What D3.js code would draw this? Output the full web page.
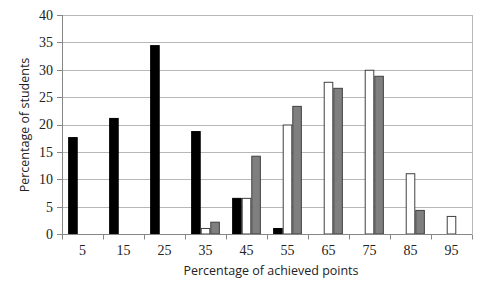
<!DOCTYPE html>
<html>
<head>
<meta charset="utf-8">
<script src="https://cdn.jsdelivr.net/npm/d3@7"></script>
<style>
  body { margin: 0; background: #fff; }
</style>
</head>
<body>
<div class="chart"></div>
<script>
// Data
var categories = ["5", "15", "25", "35", "45", "55", "65", "75", "85", "95"];
var seriesBlack = [17.7, 21.2, 34.5, 18.8, 6.6, 1.1, 0, 0, 0, 0];
var seriesWhite = [0, 0, 0, 1.1, 6.6, 20.0, 27.8, 30.0, 11.1, 3.3];
var seriesGray = [0, 0, 0, 2.25, 14.3, 23.4, 26.7, 28.9, 4.4, 0];
var yTicks = [0, 5, 10, 15, 20, 25, 30, 35, 40];

var width = 487;
var height = 296;
var margin = { top: 15, right: 15, bottom: 62, left: 62 };
var plotW = width - margin.left - margin.right;
var plotH = height - margin.top - margin.bottom;

var svg = d3.select(".chart")
  .append("svg")
  .attr("width", width)
  .attr("height", height);

var g = svg.append("g")
  .attr("transform", "translate(" + margin.left + "," + margin.top + ")");

// Scales
var x0 = d3.scaleBand()
  .domain(categories)
  .range([0, plotW])
  .paddingInner(0)
  .paddingOuter(0);

var keys = ["black", "white", "gray"];
var gap = 0.3; // gap width as share of one band
var x1 = d3.scaleBand()
  .domain(keys)
  .range([x0.bandwidth() * gap / 2, x0.bandwidth() * (1 - gap / 2)]);

var y = d3.scaleLinear()
  .domain([0, 40])
  .range([plotH, 0]);

// Gridlines
g.selectAll(".grid")
  .data(yTicks)
  .enter().append("line")
  .attr("x1", 0)
  .attr("x2", plotW)
  .attr("y1", function (d) { return Math.round(y(d)) + 0.5; })
  .attr("y2", function (d) { return Math.round(y(d)) + 0.5; })
  .attr("stroke", "#b8b8b8")
  .attr("stroke-width", 1);

// Right border of plot area
g.append("line")
  .attr("x1", plotW + 0.5).attr("x2", plotW + 0.5)
  .attr("y1", y(40)).attr("y2", plotH)
  .attr("stroke", "#b8b8b8");

// Bars
var table = categories.map(function (c, i) {
  return { cat: c, black: seriesBlack[i], white: seriesWhite[i], gray: seriesGray[i] };
});
var fills = { black: "#000000", white: "#ffffff", gray: "#7f7f7f" };
var strokes = { black: "#000000", white: "#404040", gray: "#404040" };

var groups = g.selectAll(".group")
  .data(table)
  .enter().append("g")
  .attr("transform", function (d) { return "translate(" + x0(d.cat) + ",0)"; });

groups.selectAll("rect")
  .data(function (d) {
    return keys.map(function (k) { return { key: k, value: d[k] }; })
      .filter(function (e) { return e.value > 0; });
  })
  .enter().append("rect")
  .attr("x", function (d) { return x1(d.key) + 0.5; })
  .attr("y", function (d) { return y(d.value) + 0.5; })
  .attr("width", x1.bandwidth() - 1)
  .attr("height", function (d) { return Math.max(0, plotH - y(d.value) - 0.5); })
  .attr("fill", function (d) { return fills[d.key]; })
  .attr("stroke", function (d) { return strokes[d.key]; })
  .attr("stroke-width", 1);

// X axis
var xAxis = g.append("g")
  .attr("transform", "translate(0," + (Math.round(plotH) + 0.5) + ")");
xAxis.append("line")
  .attr("x1", 0).attr("x2", plotW)
  .attr("stroke", "#868686");
xAxis.selectAll(".tick")
  .data(d3.range(categories.length + 1))
  .enter().append("line")
  .attr("x1", function (i) { return Math.round(i * x0.bandwidth()) + 0.5; })
  .attr("x2", function (i) { return Math.round(i * x0.bandwidth()) + 0.5; })
  .attr("y1", 0).attr("y2", 5)
  .attr("stroke", "#868686");
xAxis.selectAll("text")
  .data(categories)
  .enter().append("text")
  .attr("x", function (d) { return x0(d) + x0.bandwidth() / 2; })
  .attr("y", 20)
  .attr("text-anchor", "middle")
  .style("font-family", "Liberation Serif, serif")
  .style("font-size", "14px")
  .style("fill", "#222")
  .text(function (d) { return d; });

// Y axis
var yAxis = g.append("g");
yAxis.append("line")
  .attr("x1", 0.5).attr("x2", 0.5)
  .attr("y1", 0).attr("y2", plotH)
  .attr("stroke", "#868686");
yAxis.selectAll(".tick")
  .data(yTicks)
  .enter().append("line")
  .attr("x1", -5).attr("x2", 0)
  .attr("y1", function (d) { return Math.round(y(d)) + 0.5; })
  .attr("y2", function (d) { return Math.round(y(d)) + 0.5; })
  .attr("stroke", "#868686");
yAxis.selectAll("text")
  .data(yTicks)
  .enter().append("text")
  .attr("x", -9)
  .attr("y", function (d) { return y(d); })
  .attr("dy", "0.35em")
  .attr("text-anchor", "end")
  .style("font-family", "Liberation Serif, serif")
  .style("font-size", "14px")
  .style("fill", "#222")
  .text(function (d) { return d; });

// Axis titles
svg.append("text")
  .attr("transform", "translate(25," + (margin.top + 110) + ") rotate(-90)")
  .attr("text-anchor", "middle")
  .attr("dy", "0.35em")
  .style("font-family", "Open Sans, sans-serif")
  .style("font-size", "12.5px")
  .style("fill", "#222")
  .text("Percentage of students");

svg.append("text")
  .attr("x", 271)
  .attr("y", 271)
  .attr("text-anchor", "middle")
  .attr("dy", "0.35em")
  .style("font-family", "Open Sans, sans-serif")
  .style("font-size", "12.5px")
  .style("fill", "#222")
  .text("Percentage of achieved points");
</script>
</body>
</html>
